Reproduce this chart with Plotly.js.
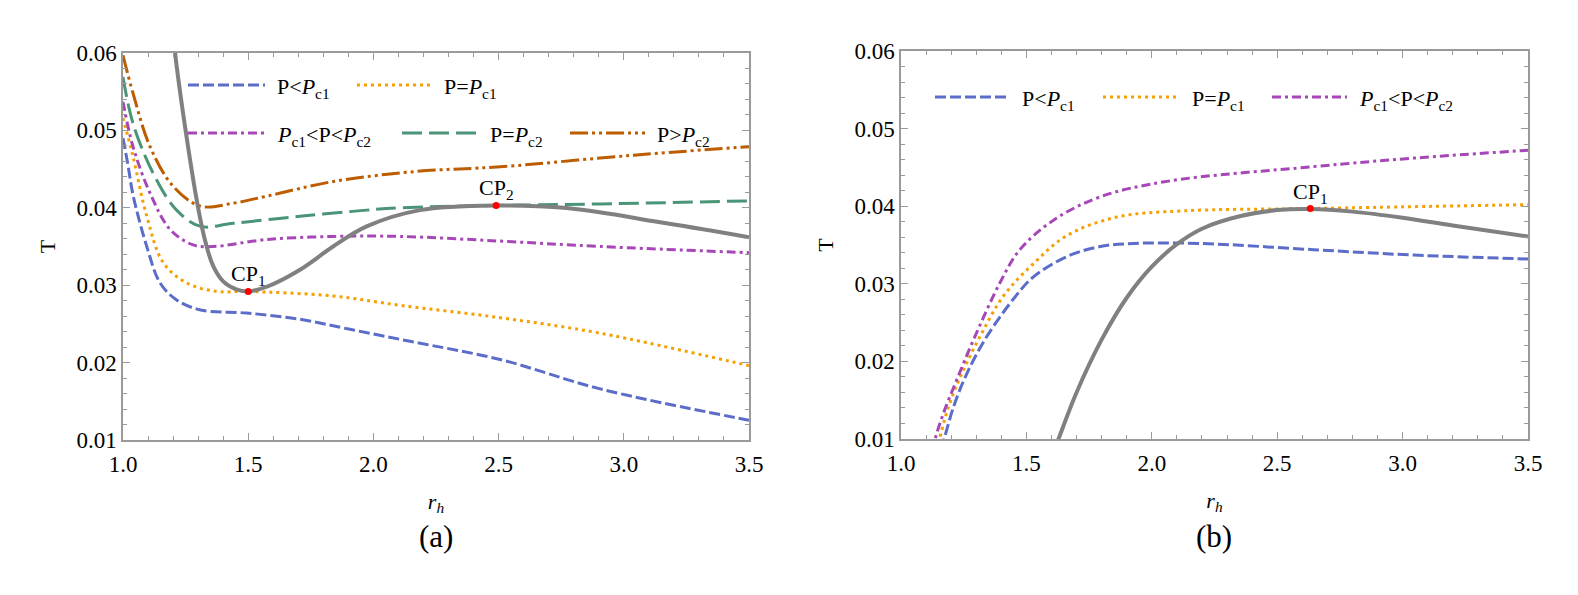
<!DOCTYPE html>
<html>
<head>
<meta charset="utf-8">
<script src="https://cdn.plot.ly/plotly-3.0.1.min.js"></script>
<style>
  html, body { margin: 0; padding: 0; background: #fff; }
  #chart { width: 1578px; height: 595px; }
</style>
</head>
<body>
<div id="chart"></div>
<script>
// panel (a): T vs r_h
const rBlueA = [1.0, 1.02, 1.041, 1.095, 1.148, 1.214, 1.31, 1.494, 1.707, 1.906, 2.146, 2.506, 2.906, 3.5];
const tBlueA = [0.049, 0.0455, 0.0415, 0.035, 0.0303, 0.0281, 0.0268, 0.0264, 0.0256, 0.0243, 0.02275, 0.0204, 0.0166, 0.01256];
const rOrangeA = [1.0, 1.04, 1.095, 1.161, 1.254, 1.374, 1.494, 1.84, 2.106, 2.506, 2.906, 3.5];
const tOrangeA = [0.0516, 0.0466, 0.0389, 0.0329, 0.0303, 0.0292, 0.0292, 0.0286, 0.0274, 0.0258, 0.0238, 0.0196];
const rPurpleA = [1.0, 1.04, 1.108, 1.188, 1.28, 1.36, 1.574, 1.84, 2.106, 2.506, 2.906, 3.5];
const tPurpleA = [0.0537, 0.0479, 0.0419, 0.0372, 0.0352, 0.0350, 0.0359, 0.0363, 0.0363, 0.0357, 0.0350, 0.0342];
const rGreenA = [1.0, 1.04, 1.12, 1.214, 1.31, 1.44, 1.707, 1.973, 2.106, 2.49, 2.906, 3.5];
const tGreenA = [0.0569, 0.0509, 0.0445, 0.0397, 0.0376, 0.0380, 0.0389, 0.0397, 0.0400, 0.0403, 0.0405, 0.0409];
const rBrownA = [1.0, 1.04, 1.108, 1.2, 1.31, 1.44, 1.574, 1.84, 2.173, 2.506, 3.04, 3.5];
const tBrownA = [0.0597, 0.0548, 0.0479, 0.0428, 0.0402, 0.0406, 0.0415, 0.0434, 0.0447, 0.0453, 0.0468, 0.0479];
const rGrayA = [1.19, 1.208, 1.25, 1.30, 1.33, 1.36, 1.40, 1.45, 1.5, 1.574, 1.707, 1.839, 1.973, 2.186, 2.49, 2.772, 3.17, 3.5];
const tGrayA = [0.066, 0.060, 0.050, 0.040, 0.0355, 0.0325, 0.0305, 0.0295, 0.0292, 0.0298, 0.0320, 0.0350, 0.0376, 0.0397, 0.0403, 0.03996, 0.0380, 0.0362];
const rCritA = [1.5, 2.49];
const tCritA = [0.0292, 0.0403];
const critLabelsA = ['CP<sub>1</sub>', 'CP<sub>2</sub>'];

// panel (b)
const rBlueB = [1.16, 1.172, 1.209, 1.262, 1.342, 1.462, 1.528, 1.661, 1.794, 1.927, 2.19, 2.645, 3.045, 3.5];
const tBlueB = [0.0087, 0.010, 0.0141, 0.0184, 0.0232, 0.0286, 0.0309, 0.0335, 0.0348, 0.0352, 0.0352, 0.0344, 0.0337, 0.0332];
const rOrangeB = [1.14, 1.153, 1.189, 1.242, 1.315, 1.41, 1.528, 1.661, 1.861, 2.127, 2.632, 3.5];
const tOrangeB = [0.0086, 0.010, 0.0141, 0.0184, 0.0232, 0.0285, 0.0326, 0.0362, 0.0386, 0.0394, 0.0397, 0.0402];
const rPurpleB = [1.125, 1.136, 1.169, 1.222, 1.288, 1.394, 1.474, 1.608, 1.794, 2.06, 2.645, 3.045, 3.5];
const tPurpleB = [0.0085, 0.010, 0.0133, 0.0176, 0.0227, 0.0301, 0.0344, 0.0382, 0.0412, 0.0432, 0.0451, 0.0462, 0.0472];
const rGrayB = [1.615, 1.628, 1.70, 1.80, 1.90, 2.00, 2.10, 2.20, 2.35, 2.50, 2.632, 2.8, 3.0, 3.2, 3.5];
const tGrayB = [0.0089, 0.010, 0.0160, 0.0228, 0.0282, 0.0322, 0.0351, 0.0371, 0.0387, 0.0395, 0.03965, 0.0393, 0.0385, 0.0375, 0.0361];
const rCritB = [2.632];
const tCritB = [0.0397];
const critLabelsB = ['CP<sub>1</sub>'];

const labelsA = ['P&lt;<i>P</i><sub>c1</sub>', 'P=<i>P</i><sub>c1</sub>', '<i>P</i><sub>c1</sub>&lt;P&lt;<i>P</i><sub>c2</sub>',
                 'P=<i>P</i><sub>c2</sub>', 'P&gt;<i>P</i><sub>c2</sub>'];
const labelsB = ['P&lt;<i>P</i><sub>c1</sub>', 'P=<i>P</i><sub>c1</sub>', '<i>P</i><sub>c1</sub>&lt;P&lt;<i>P</i><sub>c2</sub>'];

const W = 1578, H = 595;
const FONT = 'Liberation Serif';
const style = {
  blue:   {color: '#5B6CC9', dash: '11px,4px'},
  orange: {color: '#F5A000', dash: '3px,4px'},
  purple: {color: '#A747B7', dash: '9px,4px,3px,4px'},
  green:  {color: '#4A9477', dash: '20px,7px'},
  brown:  {color: '#BE5C00', dash: '18px,4px,3px,4px,3px,4px'}
};

function curve(x, y, s, xa, ya) {
  return {x: x, y: y, xaxis: xa, yaxis: ya, type: 'scatter', mode: 'lines', showlegend: false,
          line: {color: s.color, width: 3, dash: s.dash, shape: 'spline', smoothing: 1}, hoverinfo: 'skip'};
}
function grayCurve(x, y, xa, ya) {
  return {x: x, y: y, xaxis: xa, yaxis: ya, type: 'scatter', mode: 'lines', showlegend: false,
          line: {color: '#808080', width: 4, shape: 'spline', smoothing: 1}, hoverinfo: 'skip'};
}
function points(x, y, xa, ya) {
  return {x: x, y: y, xaxis: xa, yaxis: ya, type: 'scatter', mode: 'markers', showlegend: false,
          marker: {color: '#FF0000', size: 7}, cliponaxis: false, hoverinfo: 'skip'};
}

const data = [
  curve(rBlueA, tBlueA, style.blue, 'x', 'y'),
  curve(rOrangeA, tOrangeA, style.orange, 'x', 'y'),
  curve(rPurpleA, tPurpleA, style.purple, 'x', 'y'),
  curve(rGreenA, tGreenA, style.green, 'x', 'y'),
  curve(rBrownA, tBrownA, style.brown, 'x', 'y'),
  grayCurve(rGrayA, tGrayA, 'x', 'y'),
  points(rCritA, tCritA, 'x', 'y'),
  curve(rBlueB, tBlueB, style.blue, 'x2', 'y2'),
  curve(rOrangeB, tOrangeB, style.orange, 'x2', 'y2'),
  curve(rPurpleB, tPurpleB, style.purple, 'x2', 'y2'),
  grayCurve(rGrayB, tGrayB, 'x2', 'y2'),
  points(rCritB, tCritB, 'x2', 'y2')
];

function xAxis(left, right) {
  return {
    domain: [left / W, right / W], range: [1, 3.5], tick0: 1, dtick: 0.5, tickformat: '.1f',
    showline: true, linecolor: '#9a9a9a', linewidth: 1.5, mirror: 'ticks',
    ticks: 'inside', ticklen: 7, tickcolor: '#9a9a9a', tickwidth: 1, ticklabelstandoff: 3,
    minor: {dtick: 0.1, ticks: 'inside', ticklen: 4, tickcolor: '#9a9a9a'},
    showgrid: false, zeroline: false, fixedrange: true,
    tickfont: {family: FONT, size: 23, color: '#000'},
    title: {text: '<i>r</i><sub><i>h</i></sub>', font: {family: FONT, size: 22, color: '#000'}, standoff: 17}
  };
}
function yAxis(top, bottom) {
  return {
    domain: [(H - bottom) / H, (H - top) / H], range: [0.01, 0.06], tick0: 0.01, dtick: 0.01, tickformat: '.2f',
    showline: true, linecolor: '#9a9a9a', linewidth: 1.5, mirror: 'ticks',
    ticks: 'inside', ticklen: 7, tickcolor: '#9a9a9a', tickwidth: 1,
    minor: {dtick: 0.002, ticks: 'inside', ticklen: 4, tickcolor: '#9a9a9a'},
    showgrid: false, zeroline: false, fixedrange: true,
    tickfont: {family: FONT, size: 23, color: '#000'},
    title: {text: 'T', font: {family: FONT, size: 22, color: '#000'}, standoff: 15}
  };
}

// hand-drawn legends (long line samples like the original)
const shapes = [];
const annotations = [];
function legendItem(x0, x1, y, s, label) {
  shapes.push({type: 'line', xref: 'paper', yref: 'paper', x0: x0 / W, x1: x1 / W, y0: 1 - y / H, y1: 1 - y / H,
               line: {color: s.color, width: 3, dash: s.dash}});
  annotations.push({xref: 'paper', yref: 'paper', x: (x1 + 10) / W, y: 1 - (y + 3) / H, xanchor: 'left', yanchor: 'middle',
                    showarrow: false, text: label, font: {family: FONT, size: 22, color: '#000'}});
}
legendItem(188, 265, 85, style.blue, labelsA[0]);
legendItem(357, 432, 85, style.orange, labelsA[1]);
legendItem(188, 265, 133, style.purple, labelsA[2]);
legendItem(402, 478, 133, style.green, labelsA[3]);
legendItem(570, 645, 133, style.brown, labelsA[4]);
legendItem(935, 1010, 97, style.blue, labelsB[0]);
legendItem(1103, 1180, 97, style.orange, labelsB[1]);
legendItem(1272, 1347, 97, style.purple, labelsB[2]);

critLabelsA.forEach((t, i) => annotations.push({xref: 'x', yref: 'y', x: rCritA[i], y: tCritA[i], text: t, showarrow: false,
  yanchor: 'bottom', yshift: 0, font: {family: FONT, size: 22, color: '#000'}}));
critLabelsB.forEach((t, i) => annotations.push({xref: 'x2', yref: 'y2', x: rCritB[i], y: tCritB[i], text: t, showarrow: false,
  yanchor: 'bottom', yshift: 0, font: {family: FONT, size: 22, color: '#000'}}));

annotations.push({xref: 'paper', yref: 'paper', x: 436 / W, y: 1 - 536 / H, text: '(a)', showarrow: false,
  xanchor: 'center', yanchor: 'middle', font: {family: FONT, size: 31, color: '#000'}});
annotations.push({xref: 'paper', yref: 'paper', x: 1214 / W, y: 1 - 536 / H, text: '(b)', showarrow: false,
  xanchor: 'center', yanchor: 'middle', font: {family: FONT, size: 31, color: '#000'}});

const layout = {
  width: W, height: H,
  margin: {l: 0, r: 0, t: 0, b: 0},
  paper_bgcolor: '#fff', plot_bgcolor: '#fff',
  showlegend: false,
  font: {family: FONT, color: '#000'},
  xaxis: Object.assign(xAxis(123, 749), {anchor: 'y'}), yaxis: Object.assign(yAxis(53, 440), {anchor: 'x'}),
  xaxis2: Object.assign(xAxis(901, 1528), {anchor: 'y2'}), yaxis2: Object.assign(yAxis(51, 439), {anchor: 'x2'}),
  shapes: shapes,
  annotations: annotations
};

Plotly.newPlot('chart', data, layout, {displayModeBar: false});
</script>
</body>
</html>
